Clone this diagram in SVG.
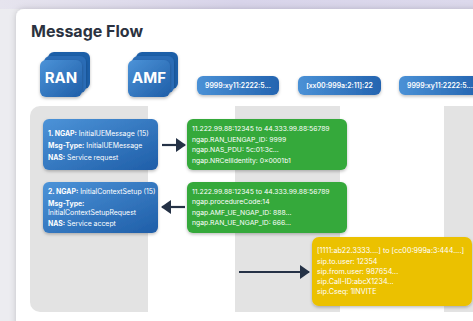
<svg xmlns="http://www.w3.org/2000/svg" width="473" height="321" viewBox="0 0 473 321">
<defs>
<linearGradient id="bgTop" x1="0" y1="0" x2="1" y2="0">
<stop offset="0" stop-color="#e6e4ee"/><stop offset="0.5" stop-color="#d8d4ea"/><stop offset="1" stop-color="#dcd9ec"/>
</linearGradient>
<linearGradient id="blue" x1="0" y1="0" x2="1" y2="1">
<stop offset="0" stop-color="#4c93d8"/><stop offset="1" stop-color="#1f5ea8"/>
</linearGradient>
<linearGradient id="pill" x1="0" y1="0" x2="1" y2="0">
<stop offset="0" stop-color="#4a91d6"/><stop offset="1" stop-color="#2464b0"/>
</linearGradient>
<filter id="sh" x="-20%" y="-20%" width="140%" height="150%">
<feDropShadow dx="0" dy="1.5" stdDeviation="1.5" flood-color="#000" flood-opacity="0.25"/>
</filter>
<filter id="cardsh" x="-10%" y="-10%" width="120%" height="120%">
<feDropShadow dx="0" dy="0" stdDeviation="3" flood-color="#000" flood-opacity="0.18"/>
</filter>
<marker id="ah" viewBox="0 0 10 14" refX="9" refY="7" markerWidth="10" markerHeight="15" markerUnits="userSpaceOnUse" orient="auto">
<path d="M0,0 L10,7 L0,14 Z" fill="#253246"/>
</marker>
<style>
text{font-family:Inter,"Liberation Sans",sans-serif;fill:#fff}
.t{font-size:6.9px}
.g{font-size:6.8px}
.y{font-size:7.2px}
.b{font-weight:700}
.title{font-size:16px;font-weight:700;fill:#2b3240}
.ic{font-size:15px;font-weight:700;text-anchor:middle}
.pt{font-size:6.9px;font-weight:600;text-anchor:middle}
.lane{fill:#e3e3e3}
.msg{fill:url(#blue);filter:url(#sh)}
.grn{fill:#34a93b;filter:url(#sh)}
.yel{fill:#ebc103;filter:url(#sh)}
.pl{fill:url(#pill);filter:url(#sh)}
.arr{stroke:#253246;stroke-width:2.2;fill:none;marker-end:url(#ah)}
</style>
</defs>
<rect width="473" height="321" fill="#ececf0"/>
<rect width="473" height="9" fill="url(#bgTop)"/>
<rect x="16" y="9" width="480" height="330" rx="8" fill="#fff" filter="url(#cardsh)"/>
<text class="title" x="31" y="37">Message Flow</text>
<path class="lane" d="M148,106 H40 A10,10 0 0 0 30,116 V302 A10,10 0 0 0 40,312 H148 Z"/>
<rect class="lane" x="235" y="106" width="105" height="206"/>
<rect class="lane" x="444" y="106" width="40" height="206"/>
<g id="RAN">
<rect x="48" y="52" width="42" height="37" rx="6" fill="#1f5ea8" filter="url(#sh)"/>
<rect x="44" y="56" width="42" height="37" rx="6" fill="#2a6cb6" filter="url(#sh)"/>
<rect x="40" y="60" width="42" height="37" rx="6" fill="url(#blue)" filter="url(#sh)"/>
<text class="ic" x="61" y="83">RAN</text>
</g>
<g id="AMF">
<rect x="136" y="52" width="42" height="37" rx="6" fill="#1f5ea8" filter="url(#sh)"/>
<rect x="132" y="56" width="42" height="37" rx="6" fill="#2a6cb6" filter="url(#sh)"/>
<rect x="128" y="60" width="42" height="37" rx="6" fill="url(#blue)" filter="url(#sh)"/>
<text class="ic" x="149" y="83">AMF</text>
</g>
<g id="H1"><rect class="pl" x="197" y="76" width="82" height="19" rx="6"/><text class="pt" x="238" y="88">9999:xy11:2222:5...</text></g>
<g id="H2"><rect class="pl" x="298" y="76" width="83" height="19" rx="6"/><text class="pt" x="339.5" y="88">[xx00:999a:2:11]:22</text></g>
<g id="H3"><rect class="pl" x="399" y="76" width="82" height="19" rx="6"/><text class="pt" x="440" y="88">9999:xy11:2222:5...</text></g>
<g id="M1">
<rect class="msg" x="43" y="119" width="115" height="51" rx="6"/>
<text class="t" x="48" y="136"><tspan class="b">1. NGAP:</tspan> InitialUEMessage (15)</text>
<text class="t" x="48" y="148"><tspan class="b">Msg-Type:</tspan> InitialUEMessage</text>
<text class="t" x="48" y="160"><tspan class="b">NAS:</tspan> Service request</text>
</g>
<g id="M2">
<rect class="msg" x="43" y="182" width="115" height="51" rx="6"/>
<text class="t" x="48" y="194"><tspan class="b">2. NGAP:</tspan> InitialContextSetup (15)</text>
<text class="t" x="48" y="206"><tspan class="b">Msg-Type:</tspan></text>
<text class="t" x="48" y="215">InitialContextSetupRequest</text>
<text class="t" x="48" y="226"><tspan class="b">NAS:</tspan> Service accept</text>
</g>
<g id="G1">
<rect class="grn" x="187" y="119" width="160" height="51" rx="6"/>
<text class="g" x="192" y="131">11.222.99.88:12345 to 44.333.99.88:56789</text>
<text class="g" x="192" y="141.5">ngap.RAN_UENGAP_ID: 9999</text>
<text class="g" x="192" y="152">ngap.NAS_PDU: 5c:01:3c...</text>
<text class="g" x="192" y="162.5">ngap.NRCellIdentity: 0×0001b1</text>
</g>
<g id="G2">
<rect class="grn" x="187" y="182" width="160" height="51" rx="6"/>
<text class="g" x="192" y="194">11.222.99.88:12345 to 44.333.99.88:56789</text>
<text class="g" x="192" y="204">ngap.procedureCode:14</text>
<text class="g" x="192" y="214.5">ngap.AMF_UE_NGAP_ID: 888...</text>
<text class="g" x="192" y="224.5">ngap.RAN_UE_NGAP_ID: 666...</text>
</g>
<g id="Y1">
<rect class="yel" x="312" y="237" width="160" height="69" rx="7"/>
<text class="y" x="317" y="253">[1111:ab22.3333....] to [cc00:999a:3:444....]</text>
<text class="y" x="317" y="263.5">sip.to.user: 12354</text>
<text class="y" x="317" y="274">sip.from.user: 987654...</text>
<text class="y" x="317" y="284">sip.Call-ID:abcX1234...</text>
<text class="y" x="317" y="294">sip.Cseq: 1INVITE</text>
</g>
<g id="connectors">
<line class="arr" x1="162" y1="145" x2="185" y2="145"/>
<line class="arr" x1="185" y1="207" x2="162" y2="207"/>
<line class="arr" x1="239" y1="272" x2="309" y2="272"/>
</g>
</svg>
